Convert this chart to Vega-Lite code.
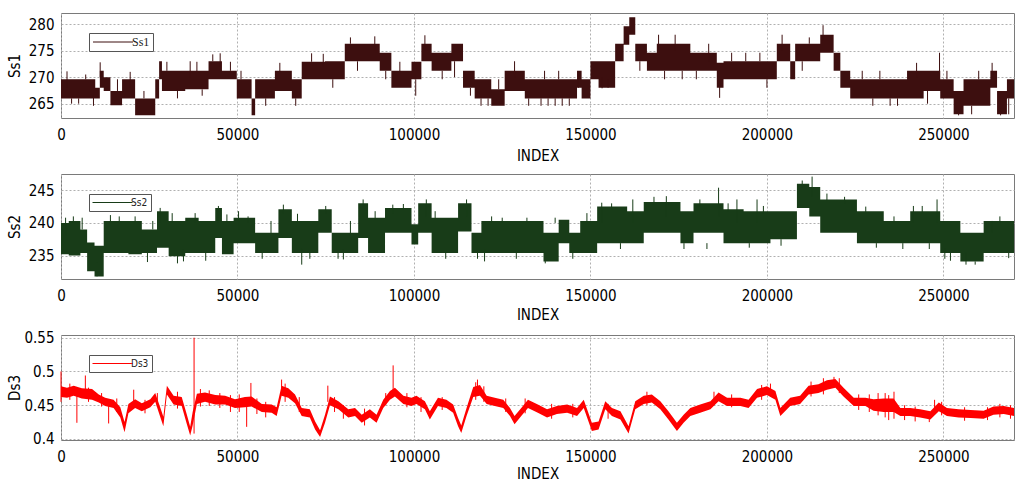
{
  "$schema": "https://vega.github.io/schema/vega-lite/v6.json",
  "autosize": {"type": "pad"},
  "padding": {"left": 6, "top": 12, "right": 13, "bottom": 5},
  "background": "white",
  "bounds": "flush",
  "spacing": 56,
  "config": {
    "font": "DejaVu Sans Condensed, DejaVu Sans",
    "view": {"stroke": "#7a7a7a", "strokeWidth": 1},
    "axis": {"labelColor": "#000", "titleColor": "#000", "labelFontSize": 15, "titleFontSize": 15, "titleFontWeight": "normal", "domain": false, "ticks": false, "grid": true, "gridDash": [2, 2], "gridColor": "#b0b0b0", "gridWidth": 1, "labelOverlap": false, "tickCount": 12}
  },
  "resolve": {"scale": {"color": "independent"}, "legend": {"color": "independent"}},
  "datasets": {
    "ss1band": [
      {"x": 0, "lo": 266.0, "hi": 269.6}, {"x": 9700, "lo": 266.0, "hi": 268.0}, {"x": 11000, "lo": 268.0, "hi": 271.2},
      {"x": 12100, "lo": 267.4, "hi": 270.0}, {"x": 14000, "lo": 264.7, "hi": 267.4}, {"x": 17300, "lo": 266.0, "hi": 269.6},
      {"x": 21000, "lo": 262.8, "hi": 266.0}, {"x": 26700, "lo": 266.0, "hi": 269.6}, {"x": 27800, "lo": 269.6, "hi": 273.0},
      {"x": 28600, "lo": 267.4, "hi": 271.2}, {"x": 35200, "lo": 267.7, "hi": 271.2}, {"x": 41800, "lo": 269.6, "hi": 273.0},
      {"x": 45600, "lo": 269.6, "hi": 271.2}, {"x": 49800, "lo": 266.0, "hi": 269.6}, {"x": 54000, "lo": 262.8, "hi": 266.0},
      {"x": 55000, "lo": 266.0, "hi": 269.6}, {"x": 60600, "lo": 267.4, "hi": 271.2}, {"x": 65400, "lo": 266.0, "hi": 269.6},
      {"x": 68200, "lo": 269.6, "hi": 272.9}, {"x": 74800, "lo": 269.6, "hi": 273.0}, {"x": 80400, "lo": 273.0, "hi": 276.3},
      {"x": 86100, "lo": 273.0, "hi": 276.3}, {"x": 90300, "lo": 271.2, "hi": 274.6}, {"x": 93600, "lo": 268.0, "hi": 271.2},
      {"x": 99300, "lo": 269.6, "hi": 272.9}, {"x": 102100, "lo": 273.0, "hi": 276.3}, {"x": 105000, "lo": 271.2, "hi": 274.6},
      {"x": 110600, "lo": 273.0, "hi": 276.3}, {"x": 113900, "lo": 268.0, "hi": 271.2}, {"x": 117200, "lo": 266.0, "hi": 269.6},
      {"x": 121900, "lo": 264.6, "hi": 267.7}, {"x": 125700, "lo": 267.4, "hi": 271.2}, {"x": 131400, "lo": 266.0, "hi": 269.6},
      {"x": 135000, "lo": 266.0, "hi": 269.6}, {"x": 146200, "lo": 268.0, "hi": 271.2}, {"x": 147500, "lo": 266.0, "hi": 269.6},
      {"x": 150000, "lo": 269.6, "hi": 273.0}, {"x": 152300, "lo": 268.0, "hi": 273.0}, {"x": 157000, "lo": 273.0, "hi": 276.3},
      {"x": 159400, "lo": 276.1, "hi": 279.6}, {"x": 161000, "lo": 278.0, "hi": 281.3}, {"x": 162700, "lo": 273.0, "hi": 276.3},
      {"x": 166000, "lo": 271.2, "hi": 274.6}, {"x": 168800, "lo": 271.2, "hi": 276.3}, {"x": 173600, "lo": 271.2, "hi": 276.3},
      {"x": 178300, "lo": 271.2, "hi": 274.6}, {"x": 185800, "lo": 268.0, "hi": 272.7}, {"x": 187700, "lo": 269.6, "hi": 273.0},
      {"x": 202800, "lo": 273.0, "hi": 276.3}, {"x": 206600, "lo": 269.6, "hi": 273.0}, {"x": 208000, "lo": 273.0, "hi": 276.3},
      {"x": 215100, "lo": 274.6, "hi": 278.0}, {"x": 218900, "lo": 271.2, "hi": 274.6}, {"x": 220800, "lo": 268.0, "hi": 271.2},
      {"x": 223600, "lo": 266.0, "hi": 269.6}, {"x": 239700, "lo": 266.0, "hi": 271.2}, {"x": 244400, "lo": 267.4, "hi": 271.2},
      {"x": 249100, "lo": 266.0, "hi": 269.6}, {"x": 252900, "lo": 263.0, "hi": 267.4}, {"x": 255700, "lo": 264.6, "hi": 269.6},
      {"x": 263300, "lo": 268.0, "hi": 271.2}, {"x": 265200, "lo": 263.0, "hi": 267.4}, {"x": 268000, "lo": 266.0, "hi": 269.6},
      {"x": 270000, "lo": 266.0, "hi": 269.6}
    ],
    "ss1spk": [
      {"x": 1700, "lo": 268, "hi": 271.1}, {"x": 9200, "lo": 264.6, "hi": 266.5}, {"x": 11100, "lo": 270, "hi": 272.8},
      {"x": 19600, "lo": 268, "hi": 271}, {"x": 36600, "lo": 270, "hi": 273}, {"x": 45100, "lo": 272, "hi": 274.5},
      {"x": 74300, "lo": 272, "hi": 274.4}, {"x": 88900, "lo": 275, "hi": 277.7}, {"x": 103100, "lo": 275, "hi": 277.9},
      {"x": 121000, "lo": 264.6, "hi": 266}, {"x": 128500, "lo": 270, "hi": 273}, {"x": 146600, "lo": 268, "hi": 271},
      {"x": 153300, "lo": 267.9, "hi": 270}, {"x": 169300, "lo": 275, "hi": 278}, {"x": 174000, "lo": 275, "hi": 278},
      {"x": 183500, "lo": 273, "hi": 276.3}, {"x": 186600, "lo": 266.1, "hi": 269}, {"x": 204300, "lo": 275, "hi": 278},
      {"x": 215900, "lo": 277, "hi": 279.8}, {"x": 234900, "lo": 264.6, "hi": 266}, {"x": 242400, "lo": 270, "hi": 272.7},
      {"x": 248900, "lo": 270, "hi": 274.6}, {"x": 254300, "lo": 262.8, "hi": 264}, {"x": 263800, "lo": 270, "hi": 272.7},
      {"x": 266200, "lo": 262.8, "hi": 264},
      {"x": 3000, "lo": 265, "hi": 266}, {"x": 5000, "lo": 265, "hi": 266}, {"x": 7000, "lo": 269.6, "hi": 270.5},
      {"x": 16000, "lo": 267.4, "hi": 269.6}, {"x": 23500, "lo": 266, "hi": 267.4}, {"x": 30000, "lo": 271.2, "hi": 272.9},
      {"x": 33000, "lo": 266, "hi": 267.7}, {"x": 38500, "lo": 271, "hi": 272.9}, {"x": 40000, "lo": 266.5, "hi": 267.7},
      {"x": 43000, "lo": 273, "hi": 274.3}, {"x": 48000, "lo": 271.2, "hi": 272.9}, {"x": 51000, "lo": 269.6, "hi": 271.2},
      {"x": 58000, "lo": 264.6, "hi": 266}, {"x": 62000, "lo": 271, "hi": 272.7}, {"x": 66500, "lo": 264.6, "hi": 266},
      {"x": 71000, "lo": 272.9, "hi": 274.5}, {"x": 77000, "lo": 268, "hi": 269.6}, {"x": 82000, "lo": 276.3, "hi": 277.5},
      {"x": 84000, "lo": 271.2, "hi": 273}, {"x": 92000, "lo": 269.6, "hi": 271.2}, {"x": 96000, "lo": 271, "hi": 272.9},
      {"x": 100500, "lo": 266.5, "hi": 269.6}, {"x": 108000, "lo": 269.6, "hi": 271.2}, {"x": 111500, "lo": 270, "hi": 273},
      {"x": 116000, "lo": 266.5, "hi": 268}, {"x": 119000, "lo": 264.6, "hi": 266}, {"x": 124000, "lo": 267.7, "hi": 269.6},
      {"x": 132500, "lo": 264.6, "hi": 266}, {"x": 136000, "lo": 264.6, "hi": 266}, {"x": 138000, "lo": 264.6, "hi": 266},
      {"x": 140000, "lo": 264.6, "hi": 266}, {"x": 142000, "lo": 264.6, "hi": 266}, {"x": 144000, "lo": 264.6, "hi": 266},
      {"x": 137000, "lo": 269.6, "hi": 271.2}, {"x": 141000, "lo": 269.6, "hi": 271.2}, {"x": 155000, "lo": 268, "hi": 269.6},
      {"x": 164000, "lo": 271.2, "hi": 273}, {"x": 171000, "lo": 269.6, "hi": 271.2}, {"x": 176000, "lo": 269.6, "hi": 271.2},
      {"x": 180000, "lo": 269.6, "hi": 271.2}, {"x": 190000, "lo": 273, "hi": 274.6}, {"x": 194000, "lo": 273, "hi": 274.6},
      {"x": 198000, "lo": 273, "hi": 274.6}, {"x": 200000, "lo": 268, "hi": 269.6}, {"x": 210000, "lo": 271.2, "hi": 273},
      {"x": 212000, "lo": 276.3, "hi": 277.5}, {"x": 227000, "lo": 269.6, "hi": 271.2}, {"x": 230000, "lo": 264.6, "hi": 266},
      {"x": 232000, "lo": 269.6, "hi": 271.2}, {"x": 237000, "lo": 264.6, "hi": 266}, {"x": 245500, "lo": 265, "hi": 267.4},
      {"x": 251000, "lo": 269.6, "hi": 271.2}, {"x": 258000, "lo": 263, "hi": 264.6}, {"x": 260000, "lo": 269.6, "hi": 271.2},
      {"x": 268500, "lo": 263, "hi": 266}
    ],
    "ss2band": [
      {"x": 0, "lo": 235.2, "hi": 240.0}, {"x": 2200, "lo": 235.0, "hi": 240.3}, {"x": 5500, "lo": 235.4, "hi": 239.0},
      {"x": 7400, "lo": 232.6, "hi": 237.0}, {"x": 9500, "lo": 231.8, "hi": 236.5}, {"x": 12100, "lo": 235.4, "hi": 240.3},
      {"x": 19100, "lo": 235.2, "hi": 240.3}, {"x": 22900, "lo": 235.4, "hi": 239.0}, {"x": 27200, "lo": 236.2, "hi": 241.8},
      {"x": 30500, "lo": 234.9, "hi": 240.3}, {"x": 35200, "lo": 235.4, "hi": 240.8}, {"x": 39000, "lo": 235.4, "hi": 240.3},
      {"x": 43700, "lo": 237.7, "hi": 242.3}, {"x": 45600, "lo": 235.2, "hi": 240.3}, {"x": 48900, "lo": 236.9, "hi": 240.8},
      {"x": 55000, "lo": 235.4, "hi": 238.5}, {"x": 61600, "lo": 237.7, "hi": 242.1}, {"x": 65400, "lo": 235.4, "hi": 240.3},
      {"x": 72900, "lo": 238.5, "hi": 242.1}, {"x": 76700, "lo": 235.4, "hi": 238.5}, {"x": 84200, "lo": 237.7, "hi": 243.0},
      {"x": 87000, "lo": 235.4, "hi": 240.8}, {"x": 91800, "lo": 238.5, "hi": 242.3}, {"x": 99300, "lo": 236.7, "hi": 239.8},
      {"x": 101200, "lo": 238.5, "hi": 243.0}, {"x": 105000, "lo": 235.4, "hi": 240.8}, {"x": 112500, "lo": 238.7, "hi": 243.0},
      {"x": 116300, "lo": 235.4, "hi": 238.5}, {"x": 119100, "lo": 235.4, "hi": 240.3}, {"x": 126600, "lo": 235.4, "hi": 240.3},
      {"x": 134900, "lo": 235.4, "hi": 240.3}, {"x": 136700, "lo": 234.1, "hi": 238.5}, {"x": 141000, "lo": 236.9, "hi": 240.5},
      {"x": 144000, "lo": 235.4, "hi": 238.5}, {"x": 147100, "lo": 235.4, "hi": 240.3}, {"x": 151900, "lo": 236.9, "hi": 242.5},
      {"x": 160400, "lo": 236.9, "hi": 241.8}, {"x": 165100, "lo": 238.5, "hi": 243.2}, {"x": 175500, "lo": 236.9, "hi": 241.8},
      {"x": 179200, "lo": 238.5, "hi": 243.0}, {"x": 187700, "lo": 236.9, "hi": 242.1}, {"x": 193400, "lo": 236.9, "hi": 241.8},
      {"x": 201000, "lo": 237.5, "hi": 241.8}, {"x": 208500, "lo": 242.3, "hi": 246.0}, {"x": 212000, "lo": 241.0, "hi": 245.5},
      {"x": 215100, "lo": 238.5, "hi": 243.6}, {"x": 219800, "lo": 238.5, "hi": 243.6}, {"x": 225500, "lo": 236.9, "hi": 241.8},
      {"x": 233100, "lo": 236.9, "hi": 240.3}, {"x": 240600, "lo": 236.9, "hi": 241.8}, {"x": 249100, "lo": 235.4, "hi": 240.3},
      {"x": 254800, "lo": 234.1, "hi": 238.5}, {"x": 261400, "lo": 235.4, "hi": 240.3}, {"x": 270000, "lo": 235.4, "hi": 240.3}
    ],
    "ss2spk": [
      {"x": 10200, "lo": 231.8, "hi": 234}, {"x": 1300, "lo": 238, "hi": 240.8}, {"x": 28100, "lo": 240, "hi": 242.3},
      {"x": 34700, "lo": 234.1, "hi": 236}, {"x": 44600, "lo": 240, "hi": 242.6}, {"x": 50300, "lo": 239, "hi": 241.8},
      {"x": 68200, "lo": 233.6, "hi": 236}, {"x": 80000, "lo": 234.4, "hi": 236}, {"x": 85600, "lo": 241, "hi": 243.6},
      {"x": 103500, "lo": 241, "hi": 243.6}, {"x": 114900, "lo": 241, "hi": 243.6}, {"x": 120000, "lo": 234.1, "hi": 236},
      {"x": 137200, "lo": 233.8, "hi": 235.5}, {"x": 153200, "lo": 240, "hi": 243.1}, {"x": 162000, "lo": 240, "hi": 243.6},
      {"x": 171500, "lo": 241, "hi": 244.1}, {"x": 186300, "lo": 241, "hi": 245.4}, {"x": 191500, "lo": 240, "hi": 243.6},
      {"x": 197200, "lo": 240, "hi": 243.6}, {"x": 212800, "lo": 244, "hi": 247.1}, {"x": 241500, "lo": 240, "hi": 242.6},
      {"x": 248200, "lo": 240, "hi": 243.6}, {"x": 250400, "lo": 234.5, "hi": 236}, {"x": 256400, "lo": 233.6, "hi": 235.5},
      {"x": 263800, "lo": 238.5, "hi": 240.3},
      {"x": 3500, "lo": 240, "hi": 241}, {"x": 6000, "lo": 239, "hi": 240.8}, {"x": 14000, "lo": 240, "hi": 241.2},
      {"x": 16500, "lo": 240, "hi": 241}, {"x": 21000, "lo": 240, "hi": 241}, {"x": 24500, "lo": 234, "hi": 235.4},
      {"x": 26000, "lo": 239, "hi": 240.3}, {"x": 31500, "lo": 240, "hi": 241.5}, {"x": 33000, "lo": 233.8, "hi": 235},
      {"x": 38000, "lo": 240, "hi": 241.5}, {"x": 41000, "lo": 234.2, "hi": 235.4}, {"x": 47000, "lo": 240, "hi": 241.3},
      {"x": 53000, "lo": 240, "hi": 241}, {"x": 57000, "lo": 234.5, "hi": 235.4}, {"x": 59500, "lo": 238, "hi": 240.3},
      {"x": 63000, "lo": 241.5, "hi": 242.8}, {"x": 67000, "lo": 240, "hi": 241.4}, {"x": 70500, "lo": 234.5, "hi": 235.4},
      {"x": 75000, "lo": 241.5, "hi": 242.6}, {"x": 78500, "lo": 234.5, "hi": 235.4}, {"x": 82000, "lo": 238, "hi": 240.3},
      {"x": 89000, "lo": 240.5, "hi": 241.8}, {"x": 94000, "lo": 241.5, "hi": 242.8}, {"x": 97000, "lo": 242, "hi": 242.9},
      {"x": 106000, "lo": 240.5, "hi": 241.8}, {"x": 109000, "lo": 234.5, "hi": 235.4}, {"x": 118000, "lo": 234.5, "hi": 235.4},
      {"x": 122000, "lo": 240, "hi": 241}, {"x": 125000, "lo": 240, "hi": 240.8}, {"x": 129000, "lo": 234.5, "hi": 235.4},
      {"x": 132000, "lo": 240, "hi": 240.8}, {"x": 140000, "lo": 240, "hi": 240.8}, {"x": 145000, "lo": 234.5, "hi": 235.4},
      {"x": 149000, "lo": 240, "hi": 241.5}, {"x": 156000, "lo": 242, "hi": 243}, {"x": 158500, "lo": 236, "hi": 236.9},
      {"x": 168000, "lo": 242.8, "hi": 244}, {"x": 176500, "lo": 236, "hi": 236.9}, {"x": 181000, "lo": 242.5, "hi": 243.6},
      {"x": 183000, "lo": 236, "hi": 236.9}, {"x": 189000, "lo": 241.8, "hi": 243}, {"x": 195000, "lo": 236.2, "hi": 236.9},
      {"x": 199000, "lo": 241.5, "hi": 242.6}, {"x": 204000, "lo": 236.5, "hi": 237.5}, {"x": 210000, "lo": 245.5, "hi": 246.5},
      {"x": 217000, "lo": 243.5, "hi": 244.5}, {"x": 222000, "lo": 243, "hi": 244}, {"x": 228000, "lo": 241.5, "hi": 242.5},
      {"x": 231000, "lo": 236.2, "hi": 236.9}, {"x": 236000, "lo": 240, "hi": 241}, {"x": 238500, "lo": 236, "hi": 236.9},
      {"x": 244000, "lo": 241.5, "hi": 242.6}, {"x": 246000, "lo": 236, "hi": 236.9}, {"x": 252000, "lo": 234.2, "hi": 235.4},
      {"x": 259000, "lo": 233.6, "hi": 234.1}, {"x": 266000, "lo": 240, "hi": 241}, {"x": 268500, "lo": 234.6, "hi": 235.4}
    ],
    "ds3band": [
      {"x": 0, "lo": 0.462, "hi": 0.478}, {"x": 1700, "lo": 0.461, "hi": 0.476}, {"x": 3600, "lo": 0.464, "hi": 0.479},
      {"x": 5900, "lo": 0.46, "hi": 0.475}, {"x": 8800, "lo": 0.458, "hi": 0.474}, {"x": 10700, "lo": 0.454, "hi": 0.466},
      {"x": 12500, "lo": 0.449, "hi": 0.461}, {"x": 14900, "lo": 0.446, "hi": 0.458}, {"x": 16800, "lo": 0.432, "hi": 0.447},
      {"x": 18000, "lo": 0.41, "hi": 0.425}, {"x": 19100, "lo": 0.438, "hi": 0.452}, {"x": 21000, "lo": 0.446, "hi": 0.459},
      {"x": 22900, "lo": 0.441, "hi": 0.453}, {"x": 25300, "lo": 0.447, "hi": 0.459}, {"x": 26700, "lo": 0.455, "hi": 0.468},
      {"x": 28100, "lo": 0.433, "hi": 0.447}, {"x": 29000, "lo": 0.419, "hi": 0.433}, {"x": 30000, "lo": 0.466, "hi": 0.479},
      {"x": 31900, "lo": 0.451, "hi": 0.464}, {"x": 34200, "lo": 0.449, "hi": 0.462}, {"x": 35600, "lo": 0.423, "hi": 0.437},
      {"x": 36600, "lo": 0.405, "hi": 0.418}, {"x": 37300, "lo": 0.42, "hi": 0.44}, {"x": 38500, "lo": 0.452, "hi": 0.467},
      {"x": 40800, "lo": 0.455, "hi": 0.469}, {"x": 43700, "lo": 0.451, "hi": 0.465}, {"x": 46500, "lo": 0.451, "hi": 0.464},
      {"x": 49300, "lo": 0.446, "hi": 0.459}, {"x": 52100, "lo": 0.447, "hi": 0.462}, {"x": 54000, "lo": 0.448, "hi": 0.463},
      {"x": 56900, "lo": 0.44, "hi": 0.452}, {"x": 59700, "lo": 0.439, "hi": 0.451}, {"x": 61100, "lo": 0.434, "hi": 0.447},
      {"x": 62500, "lo": 0.464, "hi": 0.479}, {"x": 64400, "lo": 0.461, "hi": 0.475}, {"x": 66300, "lo": 0.453, "hi": 0.466},
      {"x": 68200, "lo": 0.434, "hi": 0.446}, {"x": 70500, "lo": 0.432, "hi": 0.444}, {"x": 72000, "lo": 0.414, "hi": 0.426},
      {"x": 73400, "lo": 0.403, "hi": 0.413}, {"x": 74800, "lo": 0.424, "hi": 0.436}, {"x": 76200, "lo": 0.45, "hi": 0.463},
      {"x": 78600, "lo": 0.444, "hi": 0.456}, {"x": 81400, "lo": 0.432, "hi": 0.444}, {"x": 83300, "lo": 0.434, "hi": 0.446},
      {"x": 85200, "lo": 0.424, "hi": 0.436}, {"x": 87500, "lo": 0.432, "hi": 0.444}, {"x": 89400, "lo": 0.424, "hi": 0.436},
      {"x": 91300, "lo": 0.446, "hi": 0.458}, {"x": 93200, "lo": 0.458, "hi": 0.471}, {"x": 94600, "lo": 0.463, "hi": 0.476},
      {"x": 97000, "lo": 0.452, "hi": 0.464}, {"x": 99300, "lo": 0.449, "hi": 0.461}, {"x": 100700, "lo": 0.452, "hi": 0.464},
      {"x": 103100, "lo": 0.444, "hi": 0.456}, {"x": 104500, "lo": 0.429, "hi": 0.441}, {"x": 106800, "lo": 0.449, "hi": 0.461},
      {"x": 109200, "lo": 0.446, "hi": 0.458}, {"x": 111100, "lo": 0.439, "hi": 0.451}, {"x": 112500, "lo": 0.419, "hi": 0.431},
      {"x": 113400, "lo": 0.409, "hi": 0.42}, {"x": 114900, "lo": 0.434, "hi": 0.446}, {"x": 116800, "lo": 0.462, "hi": 0.477},
      {"x": 118700, "lo": 0.464, "hi": 0.48}, {"x": 120600, "lo": 0.452, "hi": 0.464}, {"x": 122900, "lo": 0.449, "hi": 0.461},
      {"x": 125300, "lo": 0.446, "hi": 0.458}, {"x": 127200, "lo": 0.434, "hi": 0.446}, {"x": 128500, "lo": 0.422, "hi": 0.434},
      {"x": 130400, "lo": 0.434, "hi": 0.446}, {"x": 132300, "lo": 0.446, "hi": 0.458}, {"x": 135100, "lo": 0.439, "hi": 0.451},
      {"x": 137700, "lo": 0.432, "hi": 0.444}, {"x": 140500, "lo": 0.437, "hi": 0.449}, {"x": 143400, "lo": 0.439, "hi": 0.451},
      {"x": 146200, "lo": 0.434, "hi": 0.446}, {"x": 148100, "lo": 0.446, "hi": 0.458}, {"x": 150400, "lo": 0.412, "hi": 0.424},
      {"x": 152300, "lo": 0.414, "hi": 0.426}, {"x": 154200, "lo": 0.444, "hi": 0.456}, {"x": 156100, "lo": 0.434, "hi": 0.446},
      {"x": 158500, "lo": 0.429, "hi": 0.441}, {"x": 160800, "lo": 0.408, "hi": 0.419}, {"x": 162700, "lo": 0.444, "hi": 0.456},
      {"x": 165100, "lo": 0.452, "hi": 0.464}, {"x": 167400, "lo": 0.454, "hi": 0.466}, {"x": 169800, "lo": 0.444, "hi": 0.456},
      {"x": 172100, "lo": 0.429, "hi": 0.441}, {"x": 174500, "lo": 0.412, "hi": 0.424}, {"x": 176400, "lo": 0.424, "hi": 0.436},
      {"x": 178300, "lo": 0.434, "hi": 0.446}, {"x": 181100, "lo": 0.439, "hi": 0.451}, {"x": 184000, "lo": 0.444, "hi": 0.456},
      {"x": 186300, "lo": 0.456, "hi": 0.469}, {"x": 188700, "lo": 0.449, "hi": 0.461}, {"x": 192500, "lo": 0.449, "hi": 0.461},
      {"x": 194800, "lo": 0.446, "hi": 0.458}, {"x": 197200, "lo": 0.461, "hi": 0.474}, {"x": 200000, "lo": 0.465, "hi": 0.478},
      {"x": 202400, "lo": 0.458, "hi": 0.471}, {"x": 203800, "lo": 0.434, "hi": 0.446}, {"x": 206600, "lo": 0.449, "hi": 0.461},
      {"x": 209400, "lo": 0.452, "hi": 0.464}, {"x": 211800, "lo": 0.466, "hi": 0.479}, {"x": 214600, "lo": 0.468, "hi": 0.481},
      {"x": 217000, "lo": 0.473, "hi": 0.487}, {"x": 219400, "lo": 0.476, "hi": 0.489}, {"x": 221700, "lo": 0.463, "hi": 0.476},
      {"x": 224600, "lo": 0.449, "hi": 0.461}, {"x": 227900, "lo": 0.449, "hi": 0.461}, {"x": 230200, "lo": 0.442, "hi": 0.459},
      {"x": 233100, "lo": 0.44, "hi": 0.46}, {"x": 235900, "lo": 0.44, "hi": 0.46}, {"x": 237800, "lo": 0.434, "hi": 0.446},
      {"x": 240600, "lo": 0.434, "hi": 0.446}, {"x": 243400, "lo": 0.432, "hi": 0.444}, {"x": 246300, "lo": 0.429, "hi": 0.441},
      {"x": 248700, "lo": 0.441, "hi": 0.454}, {"x": 251000, "lo": 0.434, "hi": 0.446}, {"x": 254300, "lo": 0.432, "hi": 0.444},
      {"x": 257700, "lo": 0.431, "hi": 0.443}, {"x": 261400, "lo": 0.43, "hi": 0.442}, {"x": 264200, "lo": 0.436, "hi": 0.448},
      {"x": 267100, "lo": 0.437, "hi": 0.449}, {"x": 270000, "lo": 0.434, "hi": 0.446}
    ],
    "ds3spk": [
      {"x": 0, "lo": 0.455, "hi": 0.5}, {"x": 4500, "lo": 0.424, "hi": 0.465}, {"x": 6900, "lo": 0.47, "hi": 0.494},
      {"x": 13500, "lo": 0.423, "hi": 0.455}, {"x": 20600, "lo": 0.45, "hi": 0.473}, {"x": 37700, "lo": 0.408, "hi": 0.55},
      {"x": 52600, "lo": 0.418, "hi": 0.455}, {"x": 53800, "lo": 0.455, "hi": 0.483}, {"x": 62500, "lo": 0.47, "hi": 0.488},
      {"x": 75600, "lo": 0.455, "hi": 0.479}, {"x": 94100, "lo": 0.47, "hi": 0.509}, {"x": 118000, "lo": 0.47, "hi": 0.488},
      {"x": 201000, "lo": 0.465, "hi": 0.482}, {"x": 219000, "lo": 0.478, "hi": 0.492}, {"x": 233500, "lo": 0.432, "hi": 0.468},
      {"x": 236000, "lo": 0.43, "hi": 0.47}, {"x": 246000, "lo": 0.425, "hi": 0.44},
      {"x": 2500, "lo": 0.458, "hi": 0.482}, {"x": 7800, "lo": 0.455, "hi": 0.476}, {"x": 11500, "lo": 0.448, "hi": 0.468},
      {"x": 15800, "lo": 0.44, "hi": 0.46}, {"x": 23800, "lo": 0.438, "hi": 0.458}, {"x": 27300, "lo": 0.448, "hi": 0.468},
      {"x": 33000, "lo": 0.445, "hi": 0.47}, {"x": 39500, "lo": 0.448, "hi": 0.474}, {"x": 42000, "lo": 0.449, "hi": 0.472},
      {"x": 45000, "lo": 0.446, "hi": 0.468}, {"x": 48000, "lo": 0.44, "hi": 0.465}, {"x": 50500, "lo": 0.44, "hi": 0.466},
      {"x": 55500, "lo": 0.437, "hi": 0.46}, {"x": 58000, "lo": 0.432, "hi": 0.455}, {"x": 63500, "lo": 0.455, "hi": 0.482},
      {"x": 67500, "lo": 0.44, "hi": 0.462}, {"x": 77500, "lo": 0.44, "hi": 0.462}, {"x": 80000, "lo": 0.43, "hi": 0.45},
      {"x": 86000, "lo": 0.42, "hi": 0.445}, {"x": 92000, "lo": 0.45, "hi": 0.468}, {"x": 98000, "lo": 0.447, "hi": 0.468},
      {"x": 102000, "lo": 0.44, "hi": 0.462}, {"x": 108000, "lo": 0.443, "hi": 0.462}, {"x": 117500, "lo": 0.458, "hi": 0.484},
      {"x": 119800, "lo": 0.455, "hi": 0.478}, {"x": 126000, "lo": 0.44, "hi": 0.46}, {"x": 131500, "lo": 0.438, "hi": 0.46},
      {"x": 139000, "lo": 0.43, "hi": 0.452}, {"x": 145000, "lo": 0.432, "hi": 0.452}, {"x": 155000, "lo": 0.43, "hi": 0.452},
      {"x": 166000, "lo": 0.45, "hi": 0.47}, {"x": 185000, "lo": 0.45, "hi": 0.47}, {"x": 190000, "lo": 0.447, "hi": 0.466},
      {"x": 198500, "lo": 0.458, "hi": 0.48}, {"x": 212500, "lo": 0.463, "hi": 0.485}, {"x": 216000, "lo": 0.466, "hi": 0.49},
      {"x": 220500, "lo": 0.468, "hi": 0.49}, {"x": 226000, "lo": 0.443, "hi": 0.466}, {"x": 229000, "lo": 0.44, "hi": 0.466},
      {"x": 231500, "lo": 0.435, "hi": 0.468}, {"x": 234500, "lo": 0.428, "hi": 0.465}, {"x": 239000, "lo": 0.428, "hi": 0.45},
      {"x": 242000, "lo": 0.426, "hi": 0.448}, {"x": 247500, "lo": 0.438, "hi": 0.458}, {"x": 249500, "lo": 0.435, "hi": 0.455},
      {"x": 256000, "lo": 0.427, "hi": 0.447}, {"x": 262500, "lo": 0.428, "hi": 0.447}, {"x": 266000, "lo": 0.432, "hi": 0.452},
      {"x": 269000, "lo": 0.43, "hi": 0.45}
    ]
  },
  "vconcat": [
    {
      "width": 953, "height": 105,
      "layer": [
        {
          "data": {"name": "ss1band"},
          "mark": {"type": "area", "interpolate": "step-after", "color": "#3d0f0f"},
          "encoding": {
            "x": {"field": "x", "type": "quantitative", "scale": {"domain": [0, 270000], "nice": false, "zero": false},
                  "axis": {"title": "INDEX", "values": [0, 50000, 100000, 150000, 200000, 250000], "tickCount": 30, "format": "d", "labelFlush": false, "labelOverlap": false, "labelPadding": 9, "titlePadding": 6}},
            "y": {"field": "lo", "type": "quantitative", "scale": {"domain": [262.3, 282.1], "nice": false, "zero": false},
                  "axis": {"title": "Ss1", "values": [265, 270, 275, 280], "tickCount": 12, "format": "d", "labelOverlap": false, "labelPadding": 7, "titleX": -39, "titleY": 52.5, "titleAngle": 270, "titleAlign": "center", "titleBaseline": "bottom"}},
            "y2": {"field": "hi"}
          }
        },
        {
          "data": {"name": "ss1spk"},
          "mark": {"type": "rule", "strokeWidth": 1},
          "encoding": {
            "x": {"field": "x", "type": "quantitative"},
            "y": {"field": "lo", "type": "quantitative"},
            "y2": {"field": "hi"},
            "color": {"datum": "Ss1", "type": "nominal", "scale": {"range": ["#3d0f0f"]},
                      "legend": {"orient": "none", "legendX": 28, "legendY": 20, "title": null, "padding": 3, "strokeColor": "#555", "fillColor": "#fff", "cornerRadius": 0, "symbolType": "M-4,0H4", "symbolSize": 100, "symbolOffset": 15, "symbolStrokeWidth": 1, "labelFont": "Liberation Serif", "labelFontSize": 12, "labelOffset": 13, "labelColor": "#222"}}
          }
        }
      ]
    },
    {
      "width": 953, "height": 105,
      "layer": [
        {
          "data": {"name": "ss2band"},
          "mark": {"type": "area", "interpolate": "step-after", "color": "#183c18"},
          "encoding": {
            "x": {"field": "x", "type": "quantitative", "scale": {"domain": [0, 270000], "nice": false, "zero": false},
                  "axis": {"title": "INDEX", "values": [0, 50000, 100000, 150000, 200000, 250000], "tickCount": 30, "format": "d", "labelFlush": false, "labelOverlap": false, "labelPadding": 9, "titlePadding": 4}},
            "y": {"field": "lo", "type": "quantitative", "scale": {"domain": [231.4, 247.5], "nice": false, "zero": false},
                  "axis": {"title": "Ss2", "values": [235, 240, 245], "tickCount": 12, "format": "d", "labelOverlap": false, "labelPadding": 7, "titleX": -39, "titleY": 52.5, "titleAngle": 270, "titleAlign": "center", "titleBaseline": "bottom"}},
            "y2": {"field": "hi"}
          }
        },
        {
          "data": {"name": "ss2spk"},
          "mark": {"type": "rule", "strokeWidth": 1},
          "encoding": {
            "x": {"field": "x", "type": "quantitative"},
            "y": {"field": "lo", "type": "quantitative"},
            "y2": {"field": "hi"},
            "color": {"datum": "Ss2", "type": "nominal", "scale": {"range": ["#183c18"]},
                      "legend": {"orient": "none", "legendX": 28, "legendY": 20, "title": null, "padding": 3, "strokeColor": "#555", "fillColor": "#fff", "cornerRadius": 0, "symbolType": "M-4,0H4", "symbolSize": 100, "symbolOffset": 15, "symbolStrokeWidth": 1, "labelFontSize": 10, "labelOffset": 13, "labelColor": "#222"}}
          }
        }
      ]
    },
    {
      "width": 953, "height": 105,
      "layer": [
        {
          "data": {"name": "ds3band"},
          "mark": {"type": "area", "interpolate": "linear", "color": "#ff0000"},
          "encoding": {
            "x": {"field": "x", "type": "quantitative", "scale": {"domain": [0, 270000], "nice": false, "zero": false},
                  "axis": {"title": "INDEX", "values": [0, 50000, 100000, 150000, 200000, 250000], "tickCount": 30, "format": "d", "labelFlush": false, "labelOverlap": false, "labelPadding": 9, "titlePadding": 2}},
            "y": {"field": "lo", "type": "quantitative", "scale": {"domain": [0.3985, 0.554], "nice": false, "zero": false},
                  "axis": {"title": "Ds3", "values": [0.4, 0.45, 0.5, 0.55], "tickCount": 12, "format": "~g", "labelOverlap": false, "labelPadding": 7, "titleX": -39, "titleY": 52.5, "titleAngle": 270, "titleAlign": "center", "titleBaseline": "bottom"}},
            "y2": {"field": "hi"}
          }
        },
        {
          "data": {"name": "ds3spk"},
          "mark": {"type": "rule", "strokeWidth": 1},
          "encoding": {
            "x": {"field": "x", "type": "quantitative"},
            "y": {"field": "lo", "type": "quantitative"},
            "y2": {"field": "hi"},
            "color": {"datum": "Ds3", "type": "nominal", "scale": {"range": ["#ff0000"]},
                      "legend": {"orient": "none", "legendX": 28, "legendY": 20, "title": null, "padding": 3, "strokeColor": "#555", "fillColor": "#fff", "cornerRadius": 0, "symbolType": "M-4,0H4", "symbolSize": 100, "symbolOffset": 15, "symbolStrokeWidth": 1, "labelFontSize": 10, "labelOffset": 13, "labelColor": "#222"}}
          }
        }
      ]
    }
  ]
}
